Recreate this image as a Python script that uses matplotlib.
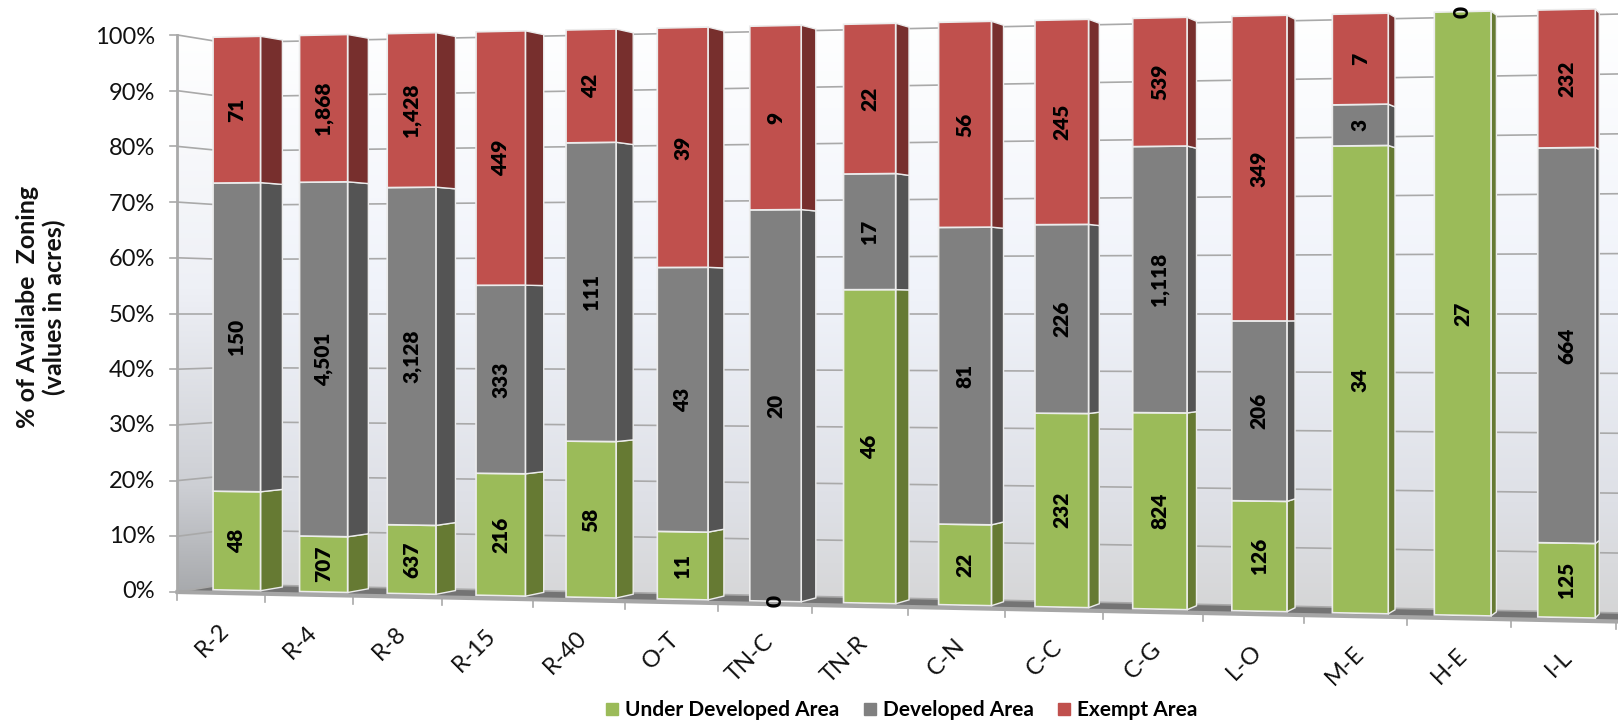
import numpy as np
import matplotlib
matplotlib.use("Agg")
import matplotlib.pyplot as plt
from matplotlib.patches import Polygon
from matplotlib.lines import Line2D

plt.rcParams['font.family'] = ['Lato', 'DejaVu Sans']

zones = ['R-2', 'R-4', 'R-8', 'R-15', 'R-40', 'O-T', 'TN-C', 'TN-R', 'C-N', 'C-C', 'C-G', 'L-O', 'M-E', 'H-E', 'I-L']
# acres, the chart only prints them rounded
under_developed = [48, 707, 637, 216, 58, 11, 0, 46, 22, 232, 824, 126, 34, 27, 125]
developed = [150, 4501, 3128, 333, 111, 43, 20, 17, 81, 226, 1118, 206, 3, None, 664]
exempt = [71, 1868, 1428, 449, 42, 39, 9.4, 22, 56, 245, 539, 349, 6.6, 0, 232]
series_names = ['Under Developed Area', 'Developed Area', 'Exempt Area']
pct_ticks = [0, 10, 20, 30, 40, 50, 60, 70, 80, 90, 100]

front_colors = ['#9BBB59', '#808080', '#C0504D']
side_colors = ['#667A33', '#545454', '#772F2D']

# one point perspective, pixels of the output picture
VX, VY = 1890.0, 313.5
S_BAR_FRONT, S_BAR_BACK, S_WALL = 0.0095, 0.0228, 0.0274
BAR_HALF = 0.275


def project(t, pct, s=0.0):
    """category position t, percent value, depth s -> picture pixels"""
    x = 177.5 + 86.5 * t / (1 - 0.00655 * t)
    half = 278.5 + 0.0205 * (x - 177.5)
    y = VY + half * (50 - pct) / 50
    return VX + (x - VX) * (1 - s), VY + (y - VY) * (1 - s)


fig = plt.figure(figsize=(16.18, 7.22), dpi=100)
ax = fig.add_axes([0, 0, 1, 1])

# walls with vertical gradients
wall_stops = np.array([[255, 255, 255], [240, 243, 250], [222, 224, 230], [212, 212, 212]]) / 255
side_stops = np.array([[255, 255, 255], [238, 240, 246], [205, 207, 212], [165, 167, 170]]) / 255
pos = [0, 0.45, 0.8, 1]
grid_y = np.linspace(0, 1, 256)
wall_img = np.stack([np.interp(grid_y, pos, wall_stops[:, c]) for c in range(3)], axis=1)[:, None, :]
side_img = np.stack([np.interp(grid_y, pos, side_stops[:, c]) for c in range(3)], axis=1)[:, None, :]

back = Polygon([project(0, 100, S_WALL), project(15.3, 100, S_WALL), project(15.3, 0, S_WALL), project(0, 0, S_WALL)],
               closed=True, fc='none', ec='none')
left = Polygon([project(0, 100, 0), project(0, 100, S_WALL), project(0, 0, S_WALL), project(0, 0, 0)],
               closed=True, fc='none', ec='none')
ax.add_patch(back)
ax.add_patch(left)
im = ax.imshow(wall_img, extent=[0, 1700, 625, 15], aspect='auto', zorder=1)
im.set_clip_path(back)
im2 = ax.imshow(side_img, extent=[170, 240, 600, 35], aspect='auto', zorder=1)
im2.set_clip_path(left)

# floor
ax.add_patch(Polygon([project(0, 0, 0), project(15.3, 0, 0), project(15.3, 0, S_WALL), project(0, 0, S_WALL)],
                     closed=True, fc='#747474', ec='none', zorder=2))
fx, fy = zip(project(0, 0), project(15.3, 0))
ax.plot(fx, fy, color='#a6a6a6', lw=3, zorder=2.5)

# gridlines on left wall and back wall
for p in pct_ticks:
    x0, y0 = project(0, p, 0)
    x1, y1 = project(0, p, S_WALL)
    x2, y2 = project(15.3, p, S_WALL)
    ax.plot([x0, x1, x2], [y0, y1, y2], color='#a9a9a9', lw=1.2, zorder=2)
    ax.plot([x0 - 7, x0], [y0, y0], color='#a9a9a9', lw=1.2, zorder=2)
    ax.text(155, y0 + 3 * p / 100, f'{p}%', ha='right', va='center', fontsize=17, color='#111111')

ax_x, ax_y = zip(project(0, 100), project(0, 0))
ax.plot(ax_x, ax_y, color='#a9a9a9', lw=2, zorder=2.5)

# category ticks
for i in range(16):
    x0, y0 = project(i, 0)
    ax.plot([x0, x0], [y0, y0 + 8], color='#a9a9a9', lw=1.2, zorder=2)

# stacked bars
for i, zone in enumerate(zones):
    vals = [under_developed[i], developed[i], exempt[i]]
    total = sum(v or 0 for v in vals)
    t0, t1 = i + 0.5 - BAR_HALF, i + 0.5 + BAR_HALF
    bottom = 0.0
    for j, v in enumerate(vals):
        top = bottom + (v or 0) / total * 100
        if top > bottom:
            ax.add_patch(Polygon([project(t1, bottom, S_BAR_FRONT), project(t1, bottom, S_BAR_BACK),
                                  project(t1, top, S_BAR_BACK), project(t1, top, S_BAR_FRONT)],
                                 closed=True, fc=side_colors[j], ec='#ececec', lw=1, zorder=3))
            ax.add_patch(Polygon([project(t0, bottom, S_BAR_FRONT), project(t1, bottom, S_BAR_FRONT),
                                  project(t1, top, S_BAR_FRONT), project(t0, top, S_BAR_FRONT)],
                                 closed=True, fc=front_colors[j], ec='#ececec', lw=1.2, zorder=3))
        if v is not None:
            lx, ly = project(i + 0.5, (bottom + top) / 2, S_BAR_FRONT)
            ax.text(lx, ly, f'{round(v):,}', rotation=90, ha='center', va='center', fontsize=15,
                    fontweight='heavy', color='black', zorder=5)
        bottom = top

    # zone name under the floor
    cx, cy = project(i + 0.5, 0)
    ax.text(cx + 5, cy + 34, zone, rotation=45, rotation_mode='anchor', ha='right', va='center',
            fontsize=17, color='#111111')

ax.text(41, 307, '% of Availabe  Zoning\n(values in acres)', rotation=90, ha='center', va='center',
        fontsize=18, fontweight='bold', color='#111111', linespacing=1.15)

handles = [Line2D([], [], linestyle='none', marker='s', markersize=8, color=c) for c in front_colors]
ax.legend(handles, series_names, ncol=3, loc='center', bbox_to_anchor=(902 / 1618, 1 - 710 / 722), frameon=False,
          prop={'weight': 'bold', 'size': 15}, handlelength=0.55, handletextpad=0.33, columnspacing=1.2, borderpad=0)

ax.set_xlim(0, 1618)
ax.set_ylim(722, 0)
ax.axis('off')

fig.savefig('out.png', dpi=100)
